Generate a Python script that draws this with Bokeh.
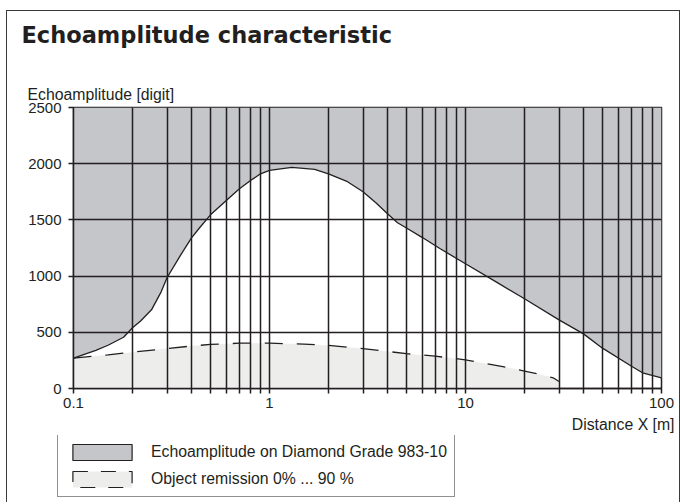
import numpy as np
from bokeh.plotting import figure
from bokeh.layouts import column
from bokeh.models import (FixedTicker, Legend, LegendItem, Title,
                          Range1d, CustomJSTickFormatter)
from bokeh.embed import file_html
from bokeh.resources import INLINE

# ---- data ----
amp_x = [0.1, 0.13, 0.15, 0.18, 0.2, 0.22, 0.25, 0.28, 0.3, 0.35, 0.4, 0.44, 0.5, 0.6,
         0.7, 0.8, 0.9, 1.0, 1.3, 1.7, 2, 2.5, 3, 3.5, 4, 4.5, 5, 6, 7.4, 10, 14.4, 20,
         30, 40, 50, 70, 80, 100]
amp_y = [270, 340, 385, 456, 540, 600, 700, 860, 985, 1180, 1340, 1430, 1545, 1670,
         1775, 1850, 1910, 1940, 1968, 1950, 1910, 1840, 1750, 1650, 1555, 1475, 1428,
         1345, 1245, 1110, 946, 798, 611, 486, 359, 200, 140, 95]

rem_x = [0.1, 0.15, 0.2, 0.3, 0.4, 0.5, 0.7, 1.0, 1.5, 2, 3, 5, 7, 10, 15, 20, 25, 28, 30]
rem_y = [270, 300, 323, 355, 378, 392, 403, 403, 395, 383, 355, 310, 288, 255, 200,
         155, 118, 95, 62]

x_major = [0.1, 1, 10, 100]
x_minor = [m * d for d in [0.1, 1, 10] for m in range(2, 10)]
y_ticks = [0, 500, 1000, 1500, 2000, 2500]

title_text = "Echoamplitude characteristic"
y_label = "Echoamplitude [digit]"
x_label = "Distance X [m]"
legend_labels = ["Echoamplitude on Diamond Grade 983-10", "Object remission 0% ... 90 %"]

GREY = "#c5c6ca"
LIGHT = "#ededec"
INK = "#231f20"
FONT = "Liberation Sans"
TXT = "15.8px"
W = 672


def blank(fig):
    fig.title.visible = False
    fig.grid.visible = False
    fig.outline_line_color = None
    fig.background_fill_color = "white"
    fig.border_fill_color = "white"


# ---------------- title strip ----------------
pt = figure(width=W, height=60, x_range=(0, 1), y_range=(0, 1),
            output_backend="svg", toolbar_location=None, frame_align=False,
            x_axis_location=None, y_axis_location=None, min_border=0)
blank(pt)
pt.add_layout(Title(text=title_text, align="left", offset=14, standoff=16,
                    text_font="DejaVu Sans", text_font_size="22.5px",
                    text_font_style="bold", text_color=INK), "above")

# ---------------- main chart ----------------
p = figure(width=W, height=364, x_axis_type="log",
           x_range=Range1d(0.1, 100), y_range=Range1d(0, 2500),
           output_backend="svg", toolbar_location=None, frame_align=False,
           min_border_left=66, min_border_right=18, min_border_top=36,
           min_border_bottom=47)
p.title.visible = False
p.background_fill_color = "white"
p.border_fill_color = "white"
p.outline_line_color = INK
p.outline_line_width = 1.5

p.varea(x=amp_x, y1=amp_y, y2=2500, fill_color=GREY)
p.varea(x=rem_x, y1=0, y2=rem_y, fill_color=LIGHT)
p.line(amp_x, amp_y, line_color=INK, line_width=1.3)
p.line(rem_x, rem_y, line_color=INK, line_width=1.3, line_dash="18 14")

xt = FixedTicker(ticks=x_major, minor_ticks=x_minor)
p.xaxis.ticker = xt
p.xgrid.ticker = xt
p.xaxis.formatter = CustomJSTickFormatter(code="return tick.toString();")
p.yaxis.ticker = FixedTicker(ticks=y_ticks)
p.ygrid.ticker = FixedTicker(ticks=y_ticks)

for g in (p.xgrid, p.ygrid):
    g.grid_line_color = INK
    g.grid_line_width = 1.5
    g.level = "overlay"
p.xgrid.minor_grid_line_color = INK
p.xgrid.minor_grid_line_width = 1.5

for ax in (p.xaxis, p.yaxis):
    ax.axis_line_color = INK
    ax.axis_line_width = 1.5
    ax.major_tick_line_color = INK
    ax.major_tick_line_width = 1.5
    ax.major_tick_out = 5
    ax.major_tick_in = 0
    ax.major_label_text_font = FONT
    ax.major_label_text_font_size = "15px"
    ax.major_label_text_color = INK
p.xaxis.minor_tick_line_color = INK
p.xaxis.minor_tick_line_width = 1.5
p.xaxis.minor_tick_out = 5
p.xaxis.minor_tick_in = 0
p.yaxis.minor_tick_line_color = None
p.yaxis.major_label_standoff = 7
p.xaxis.major_label_standoff = 4

p.add_layout(Title(text=y_label, align="left", offset=-46, standoff=9,
                   text_font=FONT, text_font_size=TXT, text_font_style="normal",
                   text_color=INK), "above")
p.add_layout(Title(text=x_label, align="right", offset=-13, standoff=6,
                   text_font=FONT, text_font_size=TXT, text_font_style="normal",
                   text_color=INK), "below")

# ---------------- legend strip ----------------
pl = figure(width=W, height=67, x_range=(0, 1), y_range=(0, 1),
            output_backend="svg", toolbar_location=None, frame_align=False,
            x_axis_location=None, y_axis_location=None, min_border=0)
blank(pl)

q1 = pl.quad(left=[np.nan], right=[np.nan], top=[np.nan], bottom=[np.nan],
             fill_color=GREY, line_color=INK, line_width=1.2)
q2 = pl.quad(left=[np.nan], right=[np.nan], top=[np.nan], bottom=[np.nan],
             fill_color=LIGHT, line_color=INK, line_width=1.2, line_dash="15 13")

legend = Legend(items=[LegendItem(label=legend_labels[0], renderers=[q1]),
                       LegendItem(label=legend_labels[1], renderers=[q2])],
                location=(50, 5), padding=7, margin=0, spacing=7,
                glyph_width=74, glyph_height=20, label_height=20, label_standoff=12,
                label_text_font=FONT, label_text_font_size=TXT,
                label_text_color=INK, border_line_color=INK, border_line_width=1.3,
                background_fill_color="white", background_fill_alpha=1)
pl.add_layout(legend)

page = column(pt, p, pl, spacing=0,
              styles={"margin-left": "6px", "margin-top": "10px",
                      "border-top": "1.5px solid #3a3a3a",
                      "border-left": "1.5px solid #3a3a3a",
                      "border-right": "1.5px solid #3a3a3a"})

open("out.html", "w").write(file_html(page, INLINE))
